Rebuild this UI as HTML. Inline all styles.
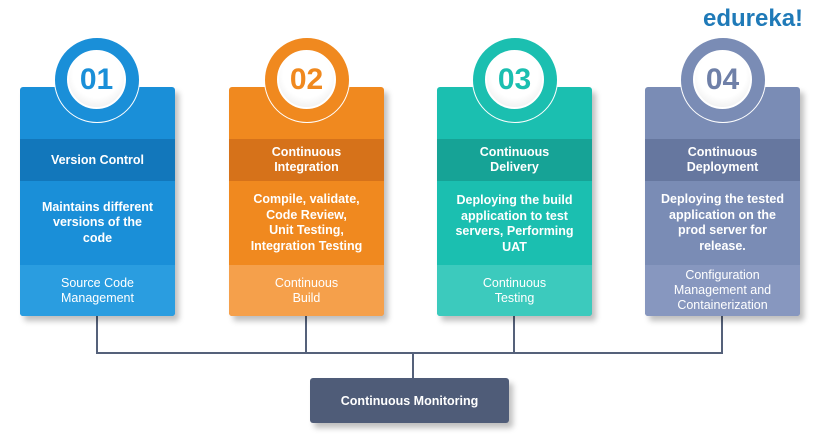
<!DOCTYPE html>
<html><head><meta charset="utf-8"><style>
body{margin:0;width:825px;height:440px;background:#fff;position:relative;overflow:hidden;font-family:"Liberation Sans",sans-serif}
.card{position:absolute;top:87px;width:155px;height:229px;border-radius:3px;box-shadow:4px 5px 6px rgba(0,0,0,.25);overflow:hidden;color:#fff;text-align:center}
.card div{position:absolute;left:0;right:0;display:flex;align-items:center;justify-content:center}
.h{top:52px;height:42px;font-weight:bold;font-size:12.5px;line-height:15px}
.b{top:94px;height:84px;font-weight:bold;font-size:12.5px;line-height:15.5px}
.f{top:178px;height:51px;font-size:12.5px;line-height:15px}
.c{position:absolute;width:86px;height:86px;border-radius:50%;border:1.5px solid #fff;box-sizing:border-box}
.c span{position:absolute;left:12px;top:12px;width:59px;height:59px;border-radius:50%;background:radial-gradient(circle at 50% 40%,#fff 55%,#e4e4e4 100%);border:2px solid #fff;box-sizing:border-box;display:flex;align-items:center;justify-content:center;font-weight:bold;font-size:30px}
.l{position:absolute;background:#55617a}
</style></head><body>
<div style="position:absolute;left:703px;top:5px;font-weight:bold;font-size:24px;color:#1f7ab8">edureka!</div>

<div class="l" style="left:96px;top:316px;width:1.5px;height:37px"></div>
<div class="l" style="left:305px;top:316px;width:1.5px;height:37px"></div>
<div class="l" style="left:513px;top:316px;width:1.5px;height:37px"></div>
<div class="l" style="left:721px;top:316px;width:1.5px;height:37px"></div>
<div class="l" style="left:96px;top:352px;width:627px;height:1.5px"></div>
<div class="l" style="left:412px;top:352px;width:1.5px;height:26px"></div>
<div style="position:absolute;left:310px;top:378px;width:199px;height:45px;background:#4f5c78;border-radius:3px;box-shadow:4px 5px 6px rgba(0,0,0,.25);color:#fff;font-weight:bold;font-size:12.5px;display:flex;align-items:center;justify-content:center">Continuous Monitoring</div>

<div class="card" style="left:20px;background:#1a8fd8"><div class="h" style="background:#1277bb">Version Control</div><div class="b">Maintains different<br>versions of the<br>code</div><div class="f" style="background:#2a9de0">Source Code<br>Management</div></div>
<div class="c" style="left:54px;top:37px;background:#1a8fd8"><span style="color:#1a8fd8">01</span></div>

<div class="card" style="left:229px;background:#f0891f"><div class="h" style="background:#d6721a">Continuous<br>Integration</div><div class="b">Compile, validate,<br>Code Review,<br>Unit Testing,<br>Integration Testing</div><div class="f" style="background:#f5a04b">Continuous<br>Build</div></div>
<div class="c" style="left:264px;top:37px;background:#f0891f"><span style="color:#f0891f">02</span></div>

<div class="card" style="left:437px;background:#1bbfb0"><div class="h" style="background:#16a396">Continuous<br>Delivery</div><div class="b" style="align-items:flex-start;padding-top:12px;height:72px">Deploying the build<br>application to test<br>servers, Performing<br>UAT</div><div class="f" style="background:#3ccabd">Continuous<br>Testing</div></div>
<div class="c" style="left:472px;top:37px;background:#1bbfb0"><span style="color:#1bbfb0">03</span></div>

<div class="card" style="left:645px;background:#7a8cb5"><div class="h" style="background:#66779f">Continuous<br>Deployment</div><div class="b">Deploying the tested<br>application on the<br>prod server for<br>release.</div><div class="f" style="background:#8797bf">Configuration<br>Management and<br>Containerization</div></div>
<div class="c" style="left:680px;top:37px;background:#7a8cb5"><span style="color:#6f80a8">04</span></div>
</body></html>
